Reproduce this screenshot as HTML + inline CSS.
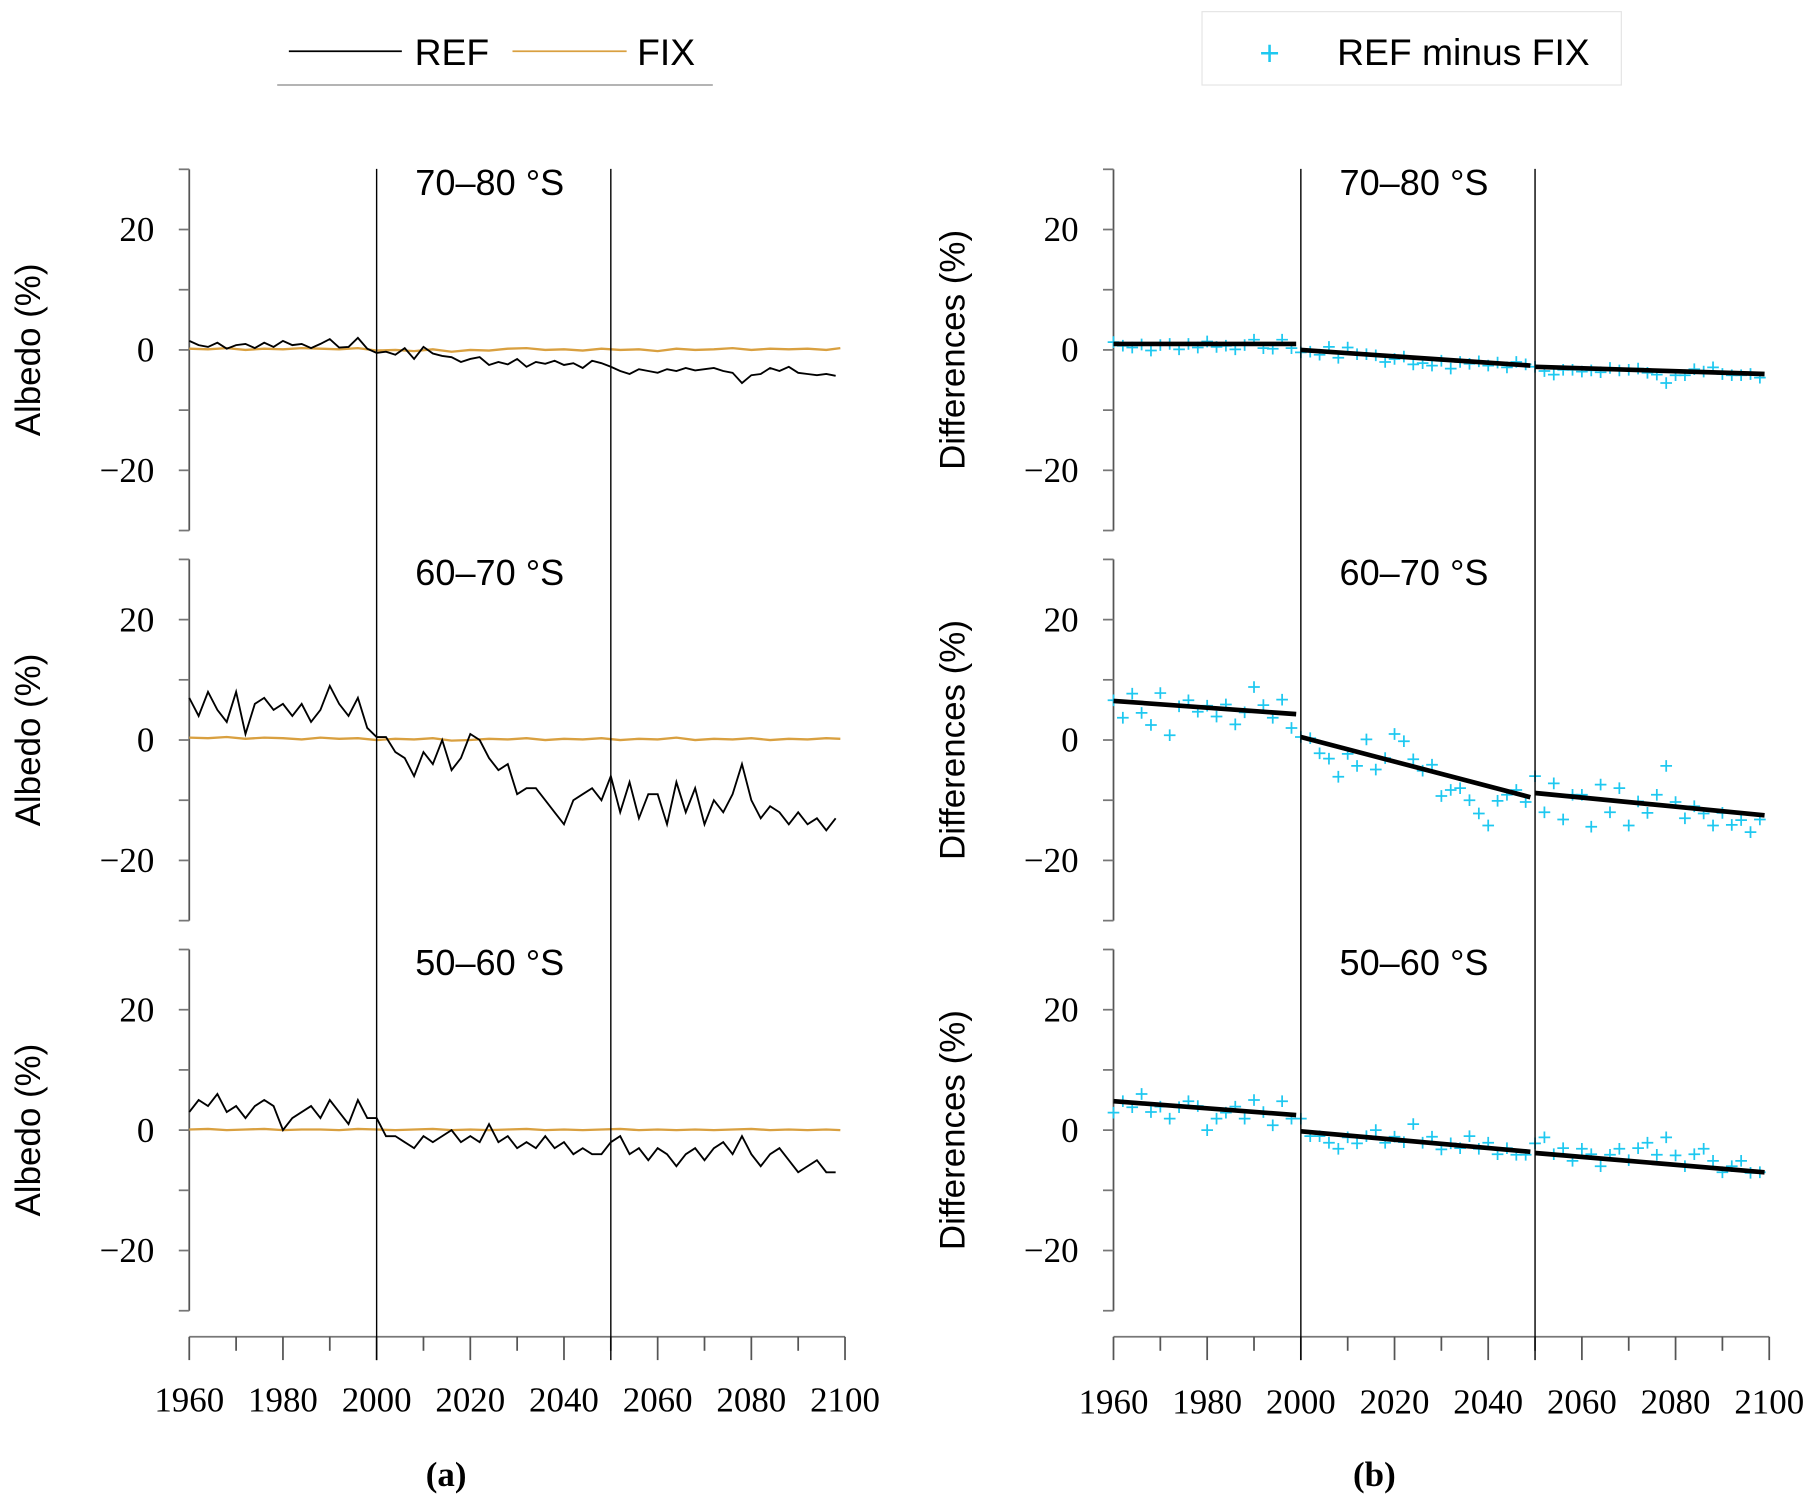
<!DOCTYPE html>
<html><head><meta charset="utf-8"><style>
html,body{margin:0;padding:0;background:#fff;}
svg{display:block;}
.serif{font-family:"Liberation Serif",serif;}
.sans{font-family:"Liberation Sans",sans-serif;}
</style></head><body>
<svg id="chart" width="1817" height="1501" viewBox="0 0 1560 1289" preserveAspectRatio="none" xmlns="http://www.w3.org/2000/svg">
<g>
<line x1="248" y1="44" x2="345" y2="44" stroke="#000" stroke-width="1.5"/>
<text x="356" y="56" class="sans" font-size="32">REF</text>
<line x1="440" y1="44" x2="538" y2="44" stroke="#d9a040" stroke-width="1.5"/>
<text x="547" y="56" class="sans" font-size="32">FIX</text>
<line x1="238" y1="73" x2="612" y2="73" stroke="#aaa" stroke-width="1.5"/>
</g>
<g>
<rect x="1032" y="10" width="360" height="63" fill="#fff" stroke="#e4e4e4" stroke-width="1"/>
<text x="1090" y="56" text-anchor="middle" class="sans" font-size="30" fill="#1ec8f0">+</text>
<text x="1148" y="56" class="sans" font-size="32">REF minus FIX</text>
</g>
<g id="plots"></g>
<text x="383" y="1276" text-anchor="middle" class="serif" font-size="30" font-weight="bold">(a)</text>
<text x="1180" y="1276" text-anchor="middle" class="serif" font-size="30" font-weight="bold">(b)</text>
</svg>
<script>
const regions = ["70–80 °S","60–70 °S","50–60 °S"];
const xTicks = [1960,1980,2000,2020,2040,2060,2080,2100];
const yTicks = [20,0,-20];
const breakYears = [2000,2050];
// REF albedo anomalies, every 2 years from 1960
const refTop = [1.5,0.8,0.5,1.2,0.2,0.8,1.0,0.3,1.2,0.5,1.5,0.8,1.0,0.3,1.0,1.8,0.4,0.5,2.0,0.2,
 -0.5,-0.3,-0.8,0.3,-1.5,0.5,-0.6,-1.0,-1.2,-2.0,-1.5,-1.2,-2.5,-2.0,-2.4,-1.5,-2.8,-2.0,-2.3,-1.8,-2.5,-2.2,-3.0,-1.8,-2.2,
 -2.8,-3.5,-4.0,-3.2,-3.5,-3.8,-3.2,-3.5,-3.0,-3.4,-3.2,-3.0,-3.5,-3.8,-5.5,-4.2,-4.0,-3.0,-3.5,-2.8,-3.8,-4.0,-4.2,-4.0,-4.3];
const refMid = [7,4,8,5,3,8,1,6,7,5,6,4,6,3,5,9,6,4,7,2,
 0.5,0.5,-2,-3,-6,-2,-4,0,-5,-3,1,0,-3,-5,-4,-9,-8,-8,-10,-12,-14,-10,-9,-8,-10,
 -6,-12,-7,-13,-9,-9,-14,-7,-12,-8,-14,-10,-12,-9,-4,-10,-13,-11,-12,-14,-12,-14,-13,-15,-13];
const refBot = [3,5,4,6,3,4,2,4,5,4,0,2,3,4,2,5,3,1,5,2,
 2,-1,-1,-2,-3,-1,-2,-1,0,-2,-1,-2,1,-2,-1,-3,-2,-3,-1,-3,-2,-4,-3,-4,-4,
 -2,-1,-4,-3,-5,-3,-4,-6,-4,-3,-5,-3,-2,-4,-1,-4,-6,-4,-3,-5,-7,-6,-5,-7,-7];
// FIX albedo anomalies, every 4 years from 1960
const fixTop = [0.2,0.1,0.3,0.0,0.2,0.1,0.3,0.2,0.1,0.3,-0.1,0.0,-0.2,0.1,-0.3,0.0,-0.1,0.2,0.3,0.0,0.1,-0.1,0.2,0.0,0.1,-0.2,0.2,0.0,0.1,0.3,0.0,0.2,0.1,0.2,0.0,0.3];
const fixMid = [0.4,0.3,0.5,0.2,0.4,0.3,0.1,0.4,0.2,0.3,0.0,0.2,0.1,0.3,-0.1,0.0,0.2,0.1,0.3,0.0,0.2,0.1,0.3,0.0,0.2,0.1,0.4,0.0,0.2,0.1,0.3,0.0,0.2,0.1,0.3,0.2];
const fixBot = [0.1,0.2,0.0,0.1,0.2,0.0,0.1,0.1,0.0,0.2,0.1,0.0,0.1,0.2,0.0,0.1,0.0,0.1,0.2,0.0,0.1,0.0,0.1,0.2,0.0,0.1,0.0,0.1,0.0,0.1,0.2,0.0,0.1,0.0,0.1,0.0];
// Trend segment endpoints [startYear,endYear,startValue,endValue]
const trendTop = [[1960,1999,1.0,1.0],[2000,2049,0.0,-2.6],[2050,2099,-2.8,-4.0]];
const trendMid = [[1960,1999,6.5,4.3],[2000,2049,0.5,-9.5],[2050,2099,-8.8,-12.5]];
const trendBot = [[1960,1999,4.8,2.5],[2000,2049,-0.2,-3.6],[2050,2099,-3.8,-7.0]];

const refs=[refTop,refMid,refBot], fixes=[fixTop,fixMid,fixBot], trends=[trendTop,trendMid,trendBot];
const NS="http://www.w3.org/2000/svg";
const root=document.getElementById('plots');
function mk(tag,attrs,parent){const e=document.createElementNS(NS,tag);for(const k in attrs)e.setAttribute(k,attrs[k]);(parent||root).appendChild(e);return e;}
const zeroY=[300.5,635.5,970.5], unit=5.17;
const panelX=[162.5,956];
function xs(p,yr){return panelX[p]+(yr-1960)*(563/140);}
function ys(r,v){return zeroY[r]-v*unit;}
function fixAt(arr,yr){const i=Math.min(arr.length-1,Math.round((yr-1960)/4));return arr[i];}

for(let p=0;p<2;p++){
  const g=mk('g',{});
  
  
  for(let r=0;r<3;r++){
    const top=ys(r,30), bot=ys(r,-30);
    const ax=mk('line',{x1:panelX[p],x2:panelX[p],y1:top,y2:bot,stroke:'#555','stroke-width':1.5},g);
    
    
    for(let v=-30;v<=30;v+=10){mk('line',{x1:panelX[p]-9,x2:panelX[p],y1:ys(r,v),y2:ys(r,v),stroke:'#777','stroke-width':1.5},g);}
    yTicks.forEach(v=>{const t=mk('text',{x:panelX[p]-30,y:ys(r,v)+10,'text-anchor':'end','font-size':30,class:'serif'},g);t.textContent=(v<0?'−':'')+Math.abs(v);
      
      });
    const yl=mk('text',{x:0,y:0,'text-anchor':'middle','font-size':30,class:'sans',transform:`translate(${panelX[p]-128},${zeroY[r]}) rotate(-90)`},g);
    yl.textContent=p===0?'Albedo (%)':'Differences (%)';
    
    
    const tt=mk('text',{x:panelX[p]+258,y:zeroY[r]-133,'text-anchor':'middle','font-size':31,class:'sans'},g);
    tt.textContent=regions[r];
    
    
    const ref=refs[r], fix=fixes[r];
    if(p===0){
      let d='';fix.forEach((v,i)=>{const yr=1960+i*4;d+=(i?'L':'M')+xs(p,Math.min(yr,2099))+','+ys(r,v);});
      const fl=mk('path',{d:d,fill:'none',stroke:'#d9a040','stroke-width':2},g);
      
      
      d='';ref.forEach((v,i)=>{d+=(i?'L':'M')+xs(p,1960+i*2)+','+ys(r,v);});
      const rl=mk('path',{d:d,fill:'none',stroke:'#000','stroke-width':1.6},g);
      
      
    } else {
      ref.forEach((v,i)=>{const yr=1960+i*2;const dv=v-fixAt(fix,yr);const cx=xs(p,yr),cy=ys(r,dv);
        const pt=mk('path',{d:`M${cx-5},${cy}H${cx+5}M${cx},${cy-5}V${cy+5}`,stroke:'#1ec8f0','stroke-width':1.5},g);
        
        });
      trends[r].forEach(s=>{const l=mk('line',{x1:xs(p,s[0]),y1:ys(r,s[2]),x2:xs(p,s[1]),y2:ys(r,s[3]),stroke:'#000','stroke-width':4},g);
        
        });
    }
  }
  const xa=mk('line',{x1:panelX[p],x2:xs(p,2100),y1:1148,y2:1148,stroke:'#777','stroke-width':1.5},g);
  
  
  for(let yr=1960;yr<=2100;yr+=10){mk('line',{x1:xs(p,yr),x2:xs(p,yr),y1:1148,y2:yr%20===0?1168:1160,stroke:'#555','stroke-width':1.5},g);}
  xTicks.forEach(yr=>{const t=mk('text',{x:xs(p,yr),y:1212+(p?2:0),'text-anchor':'middle','font-size':30,class:'serif'},g);t.textContent=yr;
    
    });
  breakYears.forEach(yr=>{const l=mk('line',{x1:xs(p,yr),x2:xs(p,yr),y1:145,y2:1168,stroke:'#000','stroke-width':1.2},g);
    
    });
}
</script>
</body></html>
